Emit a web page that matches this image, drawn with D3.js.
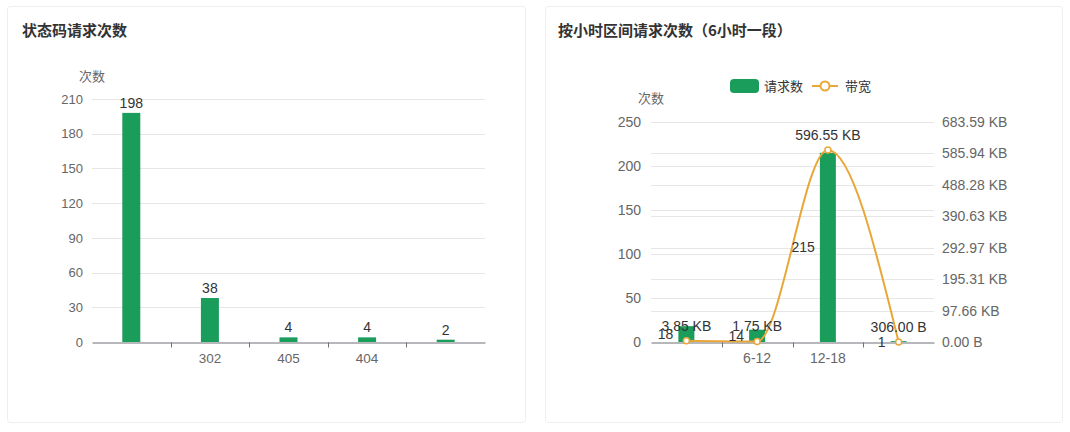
<!DOCTYPE html>
<html><head><meta charset="utf-8">
<script src="https://cdn.jsdelivr.net/npm/d3@7"></script>
<style>
html,body{margin:0;padding:0;background:#fff;}
svg{display:block;font-family:"Liberation Sans","Noto Sans CJK SC",sans-serif;}
</style></head>
<body><svg id="c" width="1070" height="432"></svg>
<script>
// Left chart data
const statusCodes = ["200", "302", "405", "404", "500"];
const statusLabels = ["", "302", "405", "404", ""];
const statusCounts = [198, 38, 4, 4, 2];
const leftTicks = [0, 30, 60, 90, 120, 150, 180, 210];

// Right chart data
const hourRanges = ["0-6", "6-12", "12-18", "18-24"];
const hourLabels = ["", "6-12", "12-18", ""];
const hourCounts = [18, 14, 215, 1];
const hourBandwidth = [3942, 1792, 610867, 306]; // bytes
const countTicks = [0, 50, 100, 150, 200, 250];
const bwTicks = [0, 100000, 200000, 300000, 400000, 500000, 600000, 700000];

const GREEN = "#1a9c5a", ORANGE = "#e9a73a", TXT = "#333", AX = "#6e7079", GRID = "#e6e6e6";
const svg = d3.select("#c");

function fmtBytes(b) {
  if (b < 1024) return b.toFixed(2) + " B";
  return (b / 1024).toFixed(2) + " KB";
}

// cards
[[7, 6, 518, 416], [545, 6, 517, 416]].forEach(([x, y, w, h]) => {
  svg.append("rect").attr("x", x + 0.5).attr("y", y + 0.5).attr("width", w).attr("height", h)
    .attr("rx", 3).attr("fill", "#fff").attr("stroke", "#eeeeee");
});

// titles
svg.append("text").attr("x", 22).attr("y", 36).attr("font-size", 15).attr("font-weight", "bold")
  .attr("fill", TXT).attr("font-family", "Noto Sans CJK SC").text("状态码请求次数");
svg.append("text").attr("x", 558).attr("y", 36).attr("font-size", 15).attr("font-weight", "bold")
  .attr("fill", TXT).attr("font-family", "Noto Sans CJK SC").text("按小时区间请求次数（6小时一段）");

// ---------- Left chart ----------
{
  const g = svg.append("g");
  const x = d3.scaleBand().domain(statusCodes).range([92, 485]);
  const y = d3.scaleLinear().domain([0, 210]).range([342, 99]);
  const bw = 18;

  g.selectAll(".grid").data(leftTicks.filter(d => d > 0)).join("line")
    .attr("x1", 92).attr("x2", 485).attr("y1", d => Math.round(y(d)) + 0.5).attr("y2", d => Math.round(y(d)) + 0.5)
    .attr("stroke", GRID);

  const ya = d3.axisLeft(y).tickValues(leftTicks).tickSize(0).tickPadding(9);
  const yg = g.append("g").attr("transform", "translate(92,0)").call(ya);
  yg.select(".domain").remove();
  yg.selectAll("text").attr("fill", "#666").attr("font-size", 13).attr("font-family", "Liberation Sans");

  g.append("text").attr("x", 92).attr("y", 81).attr("text-anchor", "middle").attr("font-size", 13)
    .attr("fill", "#666").attr("font-family", "Noto Sans CJK SC").text("次数");

  g.selectAll(".bar").data(statusCounts).join("rect")
    .attr("x", (d, i) => x(statusCodes[i]) + x.bandwidth() / 2 - bw / 2)
    .attr("width", bw).attr("y", d => y(d)).attr("height", d => y(0) - y(d)).attr("fill", GREEN);

  g.selectAll(".lbl").data(statusCounts).join("text")
    .attr("x", (d, i) => x(statusCodes[i]) + x.bandwidth() / 2).attr("y", d => y(d) - 5)
    .attr("text-anchor", "middle").attr("font-size", 14).attr("fill", TXT).text(d => d);

  const xa = d3.axisBottom(x).tickSize(0).tickPadding(11).tickFormat((d, i) => statusLabels[i]);
  const xg = g.append("g").attr("transform", "translate(0,342.5)").call(xa);
  xg.select(".domain").attr("stroke", AX);
  xg.selectAll("text").attr("fill", "#666").attr("font-size", 13.5).attr("font-family", "Liberation Sans");
  g.selectAll(".xt").data(statusCodes.slice(1)).join("line")
    .attr("x1", d => Math.round(x(d)) + 0.5).attr("x2", d => Math.round(x(d)) + 0.5)
    .attr("y1", 342.5).attr("y2", 347.5).attr("stroke", AX);
}

// ---------- Right chart ----------
{
  const g = svg.append("g");
  const x = d3.scaleBand().domain(hourRanges).range([651, 934]);
  const y = d3.scaleLinear().domain([0, 250]).range([342, 122]);
  const y2 = d3.scaleLinear().domain([0, 700000]).range([342, 122]);
  const bw = 16;
  const cx = (i) => x(hourRanges[i]) + x.bandwidth() / 2;

  g.selectAll(".grid1").data(countTicks.filter(d => d > 0)).join("line")
    .attr("x1", 651).attr("x2", 934).attr("y1", d => Math.round(y(d)) + 0.5).attr("y2", d => Math.round(y(d)) + 0.5)
    .attr("stroke", GRID);
  g.selectAll(".grid2").data(bwTicks.filter(d => d > 0 && d < 700000)).join("line")
    .attr("x1", 651).attr("x2", 934).attr("y1", d => Math.round(y2(d)) + 0.5).attr("y2", d => Math.round(y2(d)) + 0.5)
    .attr("stroke", GRID);

  const ya = d3.axisLeft(y).tickValues(countTicks).tickSize(0).tickPadding(10);
  const yg = g.append("g").attr("transform", "translate(651,0)").call(ya);
  yg.select(".domain").remove();
  yg.selectAll("text").attr("fill", "#666").attr("font-size", 14).attr("font-family", "Liberation Sans");

  const ya2 = d3.axisRight(y2).tickValues(bwTicks).tickSize(0).tickPadding(8).tickFormat(fmtBytes);
  const yg2 = g.append("g").attr("transform", "translate(934,0)").call(ya2);
  yg2.select(".domain").remove();
  yg2.selectAll("text").attr("fill", "#666").attr("font-size", 14).attr("font-family", "Liberation Sans");

  g.append("text").attr("x", 651).attr("y", 103).attr("text-anchor", "middle").attr("font-size", 13)
    .attr("fill", "#666").attr("font-family", "Noto Sans CJK SC").text("次数");

  // legend
  g.append("rect").attr("x", 730).attr("y", 79).attr("width", 29).attr("height", 14).attr("rx", 4).attr("fill", GREEN);
  g.append("text").attr("x", 764).attr("y", 91).attr("font-size", 13).attr("fill", TXT)
    .attr("font-family", "Noto Sans CJK SC").text("请求数");
  g.append("line").attr("x1", 812).attr("x2", 838).attr("y1", 86).attr("y2", 86).attr("stroke", ORANGE).attr("stroke-width", 2);
  g.append("circle").attr("cx", 825).attr("cy", 86).attr("r", 4.5).attr("fill", "#fff").attr("stroke", ORANGE).attr("stroke-width", 2);
  g.append("text").attr("x", 845).attr("y", 91).attr("font-size", 13).attr("fill", TXT)
    .attr("font-family", "Noto Sans CJK SC").text("带宽");

  g.selectAll(".bar").data(hourCounts).join("rect")
    .attr("x", (d, i) => cx(i) - bw / 2).attr("width", bw)
    .attr("y", d => y(d)).attr("height", d => y(0) - y(d)).attr("fill", GREEN);

  const xa = d3.axisBottom(x).tickSize(0).tickPadding(11).tickFormat((d, i) => hourLabels[i]);
  const xg = g.append("g").attr("transform", "translate(0,342.5)").call(xa);
  xg.select(".domain").attr("stroke", AX);
  xg.selectAll("text").attr("fill", "#666").attr("font-size", 14).attr("font-family", "Liberation Sans");
  g.selectAll(".xt").data(hourRanges.slice(1)).join("line")
    .attr("x1", d => Math.round(x(d)) + 0.5).attr("x2", d => Math.round(x(d)) + 0.5)
    .attr("y1", 342.5).attr("y2", 347.5).attr("stroke", AX);

  // line
  const line = d3.line().x((d, i) => cx(i)).y(d => y2(d)).curve(d3.curveMonotoneX);
  g.append("path").datum(hourBandwidth).attr("d", line).attr("fill", "none")
    .attr("stroke", ORANGE).attr("stroke-width", 2);

  // bar labels (left of bar)
  g.selectAll(".blbl").data(hourCounts).join("text")
    .attr("x", (d, i) => cx(i) - bw / 2 - 5).attr("y", d => (y(d) + y(0)) / 2 + 5)
    .attr("text-anchor", "end").attr("font-size", 14).attr("fill", TXT).text(d => d);

  g.selectAll(".pt").data(hourBandwidth).join("circle")
    .attr("cx", (d, i) => cx(i)).attr("cy", d => y2(d)).attr("r", 3)
    .attr("fill", "#fff").attr("stroke", ORANGE).attr("stroke-width", 1.5);

  g.selectAll(".llbl").data(hourBandwidth).join("text")
    .attr("x", (d, i) => cx(i)).attr("y", d => y2(d) - 10)
    .attr("text-anchor", "middle").attr("font-size", 14).attr("fill", TXT).text(fmtBytes);
}
</script></body></html>
